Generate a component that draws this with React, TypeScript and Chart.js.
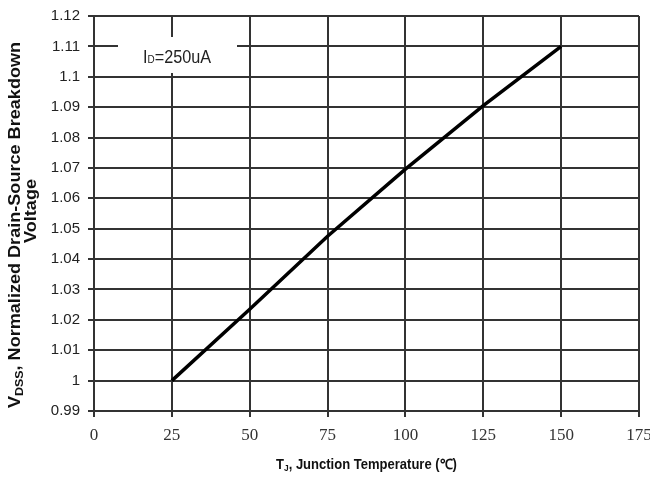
import React, { useEffect, useRef } from "react";
import { Chart, registerables } from "chart.js";

Chart.register(...registerables);

// ---- data ----
const temperatures = [25, 50, 75, 100, 125, 150];
const normalizedBV = [1.0, 1.0235, 1.0475, 1.0696, 1.0905, 1.11];
const xTickValues = [0, 25, 50, 75, 100, 125, 150, 175];
const yTickValues = [0.99, 1.0, 1.01, 1.02, 1.03, 1.04, 1.05, 1.06, 1.07, 1.08, 1.09, 1.1, 1.11, 1.12];
const xTitleParts = ["T", "J", ", Junction Temperature (℃)"];
const yTitleLine1Parts = ["V", "DSS", ", Normalized Drain-Source Breakdown"];
const yTitleLine2 = "Voltage";
const legendParts = ["I", "D", "=250uA"];

const SANS = "'Liberation Sans', Arial, sans-serif";
const SERIF = "'Liberation Serif', 'Times New Roman', serif";
const GRID = "#333333";

type Part = { text: string; font: string; dy: number };

// draws a run of text parts centred at (cx, cy) with a horizontal stretch factor
function drawParts(ctx: CanvasRenderingContext2D, parts: Part[], cx: number, cy: number, sx = 1) {
  let total = 0;
  const widths = parts.map((p) => {
    ctx.font = p.font;
    const w = ctx.measureText(p.text).width;
    total += w;
    return w;
  });
  ctx.save();
  ctx.translate(cx, cy);
  ctx.scale(sx, 1);
  let x = -total / 2;
  ctx.textAlign = "left";
  ctx.textBaseline = "alphabetic";
  parts.forEach((p, i) => {
    ctx.font = p.font;
    ctx.fillText(p.text, x, p.dy);
    x += widths[i];
  });
  ctx.restore();
}

const annotationsPlugin = {
  id: "annotations",
  afterDraw(chart: any) {
    const ctx: CanvasRenderingContext2D = chart.ctx;
    const area = chart.chartArea;
    ctx.save();
    // legend box
    ctx.fillStyle = "#ffffff";
    ctx.fillRect(area.left + 24, area.top + 21, 119, 36);
    ctx.fillStyle = "#222";
    drawParts(
      ctx,
      [
        { text: legendParts[0], font: `18px ${SANS}`, dy: 0 },
        { text: legendParts[1], font: `11px ${SANS}`, dy: 0 },
        { text: legendParts[2], font: `18px ${SANS}`, dy: 0 },
      ],
      area.left + 83,
      area.top + 47,
      0.9
    );
    // x title
    ctx.fillStyle = "#111";
    drawParts(
      ctx,
      [
        { text: xTitleParts[0], font: `bold 14px ${SANS}`, dy: 0 },
        { text: xTitleParts[1], font: `bold 9px ${SANS}`, dy: 2 },
        { text: xTitleParts[2], font: `bold 14px ${SANS}`, dy: 0 },
      ],
      (area.left + area.right) / 2,
      469,
      0.93
    );
    // y title (rotated)
    ctx.save();
    ctx.translate(20, 225);
    ctx.rotate(-Math.PI / 2);
    drawParts(
      ctx,
      [
        { text: yTitleLine1Parts[0], font: `bold 16px ${SANS}`, dy: 0 },
        { text: yTitleLine1Parts[1], font: `bold 11px ${SANS}`, dy: 3 },
        { text: yTitleLine1Parts[2], font: `bold 16px ${SANS}`, dy: 0 },
      ],
      0,
      0,
      1.13
    );
    ctx.restore();
    ctx.save();
    ctx.translate(36, 211);
    ctx.rotate(-Math.PI / 2);
    drawParts(ctx, [{ text: yTitleLine2, font: `bold 16px ${SANS}`, dy: 0 }], 0, 0, 1.13);
    ctx.restore();
    ctx.restore();
  },
};

export default function App() {
  const ref = useRef<HTMLCanvasElement | null>(null);
  useEffect(() => {
    document.body.style.margin = "0";
    const canvas = ref.current;
    if (!canvas) return;
    const chart = new Chart(canvas, {
      type: "scatter",
      data: {
        datasets: [
          {
            data: temperatures.map((t, i) => ({ x: t, y: normalizedBV[i] })),
            showLine: true,
            borderColor: "#000",
            borderWidth: 3.5,
            pointRadius: 0,
            tension: 0,
          },
        ],
      },
      options: {
        animation: false,
        responsive: false,
        devicePixelRatio: 1,
        layout: { padding: { top: 16, right: 11, left: 0, bottom: 0 } },
        plugins: { legend: { display: false }, tooltip: { enabled: false } },
        scales: {
          x: {
            type: "linear",
            min: 0,
            max: 175,
            afterBuildTicks: (scale: any) => {
              scale.ticks = xTickValues.map((v) => ({ value: v }));
            },
            afterFit: (scale: any) => {
              scale.height = 66;
              scale.paddingLeft = 0;
              scale.paddingRight = 0;
            },
            grid: { color: GRID, lineWidth: 2, tickLength: 6, drawTicks: true },
            border: { color: GRID, width: 2 },
            ticks: {
              color: "#333",
              padding: 8,
              maxRotation: 0,
              font: { family: SERIF, size: 17 },
              callback: (v: any) => String(v),
            },
          },
          y: {
            type: "linear",
            min: 0.99,
            max: 1.12,
            afterBuildTicks: (scale: any) => {
              scale.ticks = yTickValues.map((v) => ({ value: v }));
            },
            afterFit: (scale: any) => {
              scale.width = 94;
              scale.paddingTop = 0;
              scale.paddingBottom = 0;
            },
            grid: { color: GRID, lineWidth: 2, tickLength: 6, drawTicks: true },
            border: { color: GRID, width: 2 },
            ticks: {
              color: "#222",
              padding: 8,
              font: { family: SANS, size: 15 },
              callback: (v: any) => String(Number(Number(v).toFixed(2))),
            },
          },
        },
      },
      plugins: [annotationsPlugin],
    } as any);
    return () => chart.destroy();
  }, []);
  return <canvas ref={ref} width={650} height={477} style={{ display: "block" }} />;
}
